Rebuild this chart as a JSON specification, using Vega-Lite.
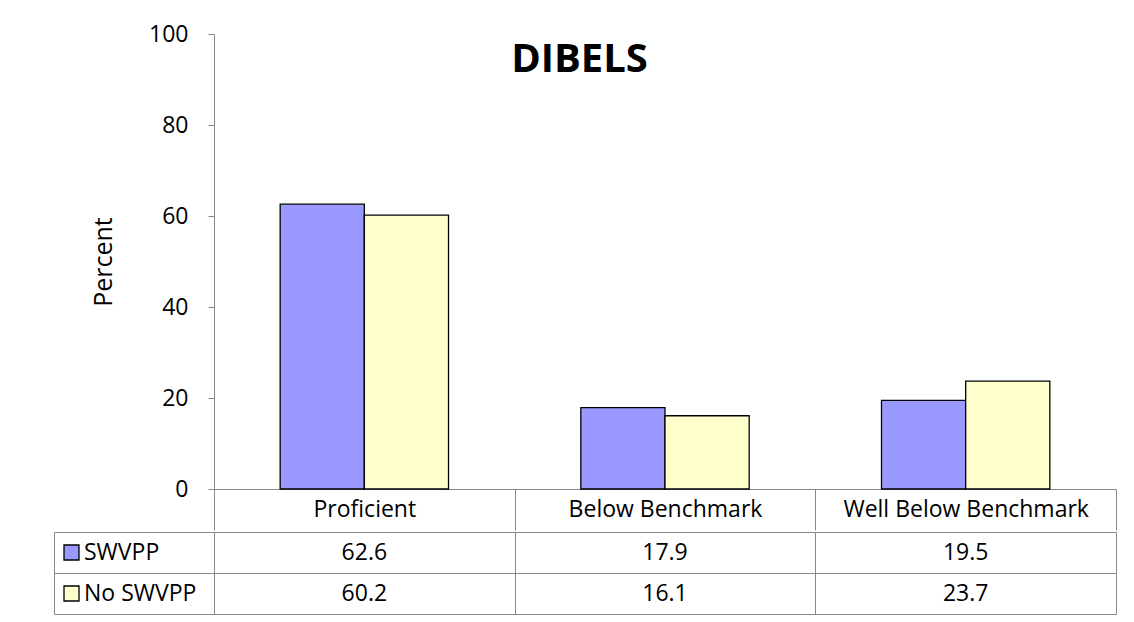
{
  "$schema": "https://vega.github.io/schema/vega-lite/v6.json",
  "padding": {"left": 53, "top": 23, "right": 0, "bottom": 0},
  "background": "white",
  "config": {
    "font": "Open Sans",
    "view": {"stroke": null},
    "axis": {"labelColor": "black", "titleColor": "black", "domainColor": "#898989", "tickColor": "#898989", "gridColor": "#898989", "labelFontSize": 23, "labelFont": "Open Sans"}
  },
  "datasets": {
    "dibels": [
      {"category": "Proficient", "series": "SWVPP", "value": 62.6},
      {"category": "Proficient", "series": "No SWVPP", "value": 60.2},
      {"category": "Below Benchmark", "series": "SWVPP", "value": 17.9},
      {"category": "Below Benchmark", "series": "No SWVPP", "value": 16.1},
      {"category": "Well Below Benchmark", "series": "SWVPP", "value": 19.5},
      {"category": "Well Below Benchmark", "series": "No SWVPP", "value": 23.7}
    ]
  },
  "spacing": 0,
  "resolve": {"scale": {"fill": "independent"}, "legend": {"fill": "independent"}},
  "vconcat": [
    {
      "width": 902,
      "height": 455,
      "title": {"text": "DIBELS", "fontSize": 40, "fontWeight": "bold", "font": "Open Sans", "color": "black", "anchor": "middle", "frame": "group", "dx": -85.5, "dy": 40, "baseline": "alphabetic", "offset": -49},
      "data": {"name": "dibels"},
      "mark": {"type": "bar", "stroke": "black", "strokeWidth": 1.3},
      "encoding": {
        "x": {
          "field": "category", "type": "nominal",
          "sort": ["Proficient", "Below Benchmark", "Well Below Benchmark"],
          "scale": {"paddingInner": 0, "paddingOuter": 0},
          "axis": {"title": null, "labelAngle": 0, "tickBand": "extent", "tickSize": 41, "labelBaseline": "middle", "labelPadding": -20.5, "labelLimit": 0}
        },
        "xOffset": {"field": "series", "type": "nominal", "sort": ["SWVPP", "No SWVPP"], "scale": {"paddingInner": 0, "paddingOuter": 0.786}},
        "y": {
          "field": "value", "type": "quantitative",
          "scale": {"domain": [0, 100], "nice": false},
          "axis": {"title": "Percent", "values": [0, 20, 40, 60, 80, 100], "grid": false, "tickSize": 6, "labelPadding": 20, "titleFontSize": 25, "titleFontWeight": "normal", "titlePadding": 32, "titleFont": "Open Sans"}
        },
        "fill": {"field": "series", "type": "nominal", "sort": ["SWVPP", "No SWVPP"], "scale": {"range": ["#9999FF", "#FFFFCC"]}, "legend": null}
      }
    },
    {
      "width": 902,
      "height": 82,
      "view": {"stroke": "#898989"},
      "data": {"name": "dibels"},
      "layer": [
        {
          "mark": {"type": "text", "fontSize": 23, "color": "black"},
          "encoding": {
            "x": {
              "field": "category", "type": "nominal",
              "sort": ["Proficient", "Below Benchmark", "Well Below Benchmark"],
              "scale": {"paddingInner": 0, "paddingOuter": 0},
              "axis": {"title": null, "labels": false, "ticks": false, "domain": false, "grid": true, "tickBand": "extent"}
            },
            "y": {
              "field": "series", "type": "nominal", "sort": ["SWVPP", "No SWVPP"],
              "scale": {"paddingInner": 0, "paddingOuter": 0},
              "axis": {"title": null, "labels": false, "domain": false, "ticks": true, "tickSize": 160, "tickBand": "extent", "grid": true}
            },
            "text": {"field": "value", "type": "quantitative", "format": ".1f"}
          }
        },
        {
          "mark": {"type": "point", "shape": "square", "size": 0, "filled": true},
          "encoding": {
            "x": {"field": "category", "type": "nominal", "sort": ["Proficient", "Below Benchmark", "Well Below Benchmark"]},
            "y": {
              "field": "series", "type": "nominal", "sort": ["SWVPP", "No SWVPP"],
              "scale": {"paddingInner": 0, "paddingOuter": 0},
              "axis": {"orient": "left", "offset": 160, "title": null, "labels": false, "ticks": false, "grid": false, "domain": true}
            },
            "fill": {
              "field": "series", "type": "nominal", "sort": ["SWVPP", "No SWVPP"],
              "scale": {"range": ["#9999FF", "#FFFFCC"]},
              "legend": {"title": null, "orient": "none", "legendX": -154, "legendY": 9, "symbolType": "square", "symbolSize": 225, "symbolStrokeColor": "black", "symbolStrokeWidth": 1.3, "symbolOpacity": 1, "labelFontSize": 23, "labelFont": "Open Sans", "labelColor": "black", "labelOffset": 1, "rowPadding": 17, "padding": 0}
            }
          }
        }
      ],
      "resolve": {"scale": {"y": "independent"}, "axis": {"y": "independent"}}
    }
  ]
}
